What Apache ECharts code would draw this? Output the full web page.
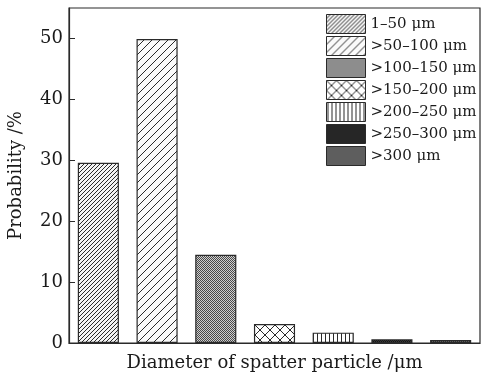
<!doctype html>
<html lang="en">
<head>
  <meta charset="UTF-8">
  <title>Spatter particle diameter</title>
  <style>
    html, body { margin: 0; padding: 0; background: #fff; }
    #chart { width: 482px; height: 374px; }
  </style>
  <script src="https://cdn.jsdelivr.net/npm/echarts@6/dist/echarts.min.js"></script>
</head>
<body>
  <div id="chart"></div>
  <script>
    // size classes (legend names) and their probability in %
    var classes = ['1\u201350 \u03bcm', '>50\u2013100 \u03bcm', '>100\u2013150 \u03bcm', '>150\u2013200 \u03bcm',
      '>200\u2013250 \u03bcm', '>250\u2013300 \u03bcm', '>300 \u03bcm'];
    var probability = [29.6, 49.9, 14.5, 3.1, 1.7, 0.6, 0.5];
    var yTicks = [0, 10, 20, 30, 40, 50];

    var ink = '#2a2a2a';
    var font = '"DejaVu Serif", "Liberation Serif", serif';

    // little canvas tiles used as hatch fills
    function tile(size, bg, draw) {
      var c = document.createElement('canvas');
      c.width = c.height = size;
      var ctx = c.getContext('2d');
      ctx.fillStyle = bg;
      ctx.fillRect(0, 0, size, size);
      ctx.strokeStyle = ink;
      ctx.fillStyle = ink;
      ctx.lineWidth = 1;
      draw(ctx, size);
      return { image: c, repeat: 'repeat' };
    }
    function diag(ctx, s) {
      ctx.beginPath();
      ctx.moveTo(0, s); ctx.lineTo(s, 0);
      ctx.moveTo(-1, 1); ctx.lineTo(1, -1);
      ctx.moveTo(s - 1, s + 1); ctx.lineTo(s + 1, s - 1);
      ctx.stroke();
    }
    function cross(ctx, s) {
      diag(ctx, s);
      ctx.beginPath();
      ctx.moveTo(0, 0); ctx.lineTo(s, s);
      ctx.moveTo(-1, s - 1); ctx.lineTo(1, s + 1);
      ctx.moveTo(s - 1, -1); ctx.lineTo(s + 1, 1);
      ctx.stroke();
    }
    function checker(dark, light) {
      return function (ctx, s) {
        ctx.fillStyle = light;
        ctx.fillRect(0, 0, s, s);
        ctx.fillStyle = dark;
        ctx.fillRect(0, 0, 1, 1);
        ctx.fillRect(1, 1, 1, 1);
      };
    }

    var fills = [
      tile(4, '#f4f4f4', diag),
      tile(8, '#fafafa', diag),
      tile(2, '#fff', checker('#4a4a4a', '#d0d0d0')),
      tile(10, '#fff', cross),
      tile(4, '#fff', function (ctx, s) {
        ctx.fillRect(1, 0, 1, s);
      }),
      tile(2, '#fff', checker('#111', '#3c3c3c')),
      tile(2, '#fff', checker('#333', '#8a8a8a'))
    ];

    var series = classes.map(function (name, i) {
      return {
        name: name,
        type: 'bar',
        stack: 'all',
        barWidth: '70%',
        data: probability.map(function (v, j) { return j === i ? v : '-'; }),
        itemStyle: { color: fills[i], borderColor: ink, borderWidth: 1.2 }
      };
    });

    var chart = echarts.init(document.getElementById('chart'));
    chart.setOption({
      animation: false,
      backgroundColor: '#fff',
      textStyle: { fontFamily: font, color: '#1a1a1a' },
      grid: {
        left: 69, right: 2, top: 8, bottom: 31,
        outerBoundsMode: 'none',
        show: true, borderColor: ink, borderWidth: 1.2
      },
      legend: {
        orient: 'vertical',
        left: 326, top: 14,
        padding: 0,
        itemWidth: 39, itemHeight: 19, itemGap: 2,
        icon: 'rect',
        itemStyle: { borderWidth: 1, borderColor: ink },
        textStyle: { fontFamily: font, fontSize: 15, color: '#1a1a1a' },
        data: classes
      },
      xAxis: {
        type: 'category',
        data: classes,
        name: 'Diameter of spatter particle /\u03bcm',
        nameLocation: 'middle',
        nameGap: 11,
        nameTextStyle: { fontFamily: font, fontSize: 18, color: '#1a1a1a', verticalAlign: 'top' },
        axisLine: { lineStyle: { color: ink, width: 1.2 } },
        axisTick: { show: false },
        axisLabel: { show: false }
      },
      yAxis: {
        type: 'value',
        min: 0, max: 55, interval: 10,
        name: 'Probability /%',
        nameLocation: 'middle',
        nameGap: 44,
        nameTextStyle: { fontFamily: font, fontSize: 18, color: '#1a1a1a' },
        axisLine: { show: true, lineStyle: { color: ink, width: 1.2 } },
        axisTick: { show: true, inside: true, length: 6, lineStyle: { color: ink } },
        axisLabel: {
          fontFamily: font, fontSize: 18, color: '#1a1a1a', margin: 6,
          showMaxLabel: false,
          formatter: function (v) { return yTicks.indexOf(v) >= 0 ? v : ''; }
        },
        splitLine: { show: false }
      },
      series: series
    });
  </script>
</body>
</html>
